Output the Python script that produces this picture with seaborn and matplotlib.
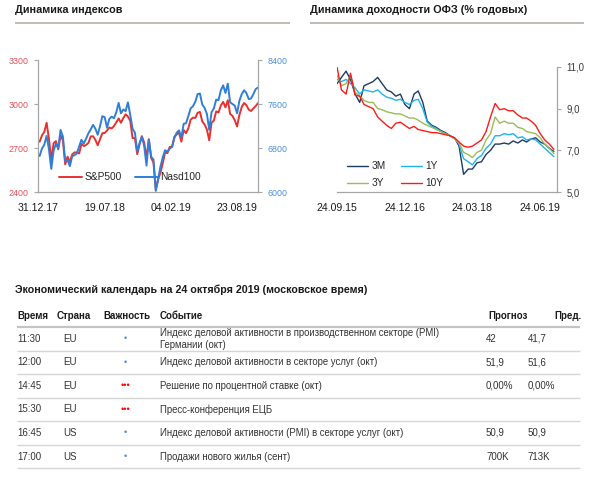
import numpy as np
import pandas as pd
import matplotlib
matplotlib.use('Agg')
import matplotlib.pyplot as plt
import seaborn as sns

sns.set_style('white')
plt.rcParams['font.family'] = ['Liberation Sans', 'DejaVu Sans']

# ---------------- data: stock indices (weekly closes) ----------------
idx_start = '2018-01-05'
sp500 = [2743, 2786, 2810, 2872, 2762, 2619, 2732, 2747, 2691, 2786, 2752, 2588, 2641,
         2604, 2656, 2670, 2670, 2663, 2728, 2713, 2721, 2735, 2779, 2780, 2755, 2718,
         2760, 2801, 2802, 2819, 2840, 2833, 2850, 2875, 2902, 2872, 2904, 2930, 2914,
         2886, 2767, 2768, 2658, 2723, 2781, 2736, 2633, 2760, 2633, 2600, 2417, 2486,
         2532, 2596, 2671, 2665, 2707, 2708, 2776, 2793, 2804, 2743, 2822, 2801, 2834,
         2893, 2907, 2905, 2940, 2946, 2881, 2860, 2826, 2752, 2873, 2887, 2950, 2942,
         2990, 3014, 2977, 3026, 2932, 2919, 2889, 2847, 2926, 2979, 3007, 2992, 2962,
         2952, 2970, 2986, 3006]
nasd100 = [6655, 6790, 6860, 7022, 6777, 6420, 6750, 6880, 6800, 7130, 7010, 6560, 6580,
           6470, 6650, 6670, 6700, 6830, 6950, 6880, 6970, 7070, 7140, 7220, 7150, 7040,
           7200, 7380, 7360, 7170, 7330, 7370, 7340, 7450, 7620, 7430, 7500, 7470, 7630,
           7400, 7150, 7080, 6740, 6890, 7000, 6840, 6480, 6950, 6640, 6590, 6020, 6230,
           6460, 6630, 6760, 6730, 6790, 6820, 6980, 7080, 7120, 6990, 7240, 7250, 7380,
           7520, 7560, 7640, 7780, 7790, 7590, 7530, 7420, 7130, 7450, 7520, 7680, 7670,
           7850, 7940, 7800, 7970, 7630, 7600, 7570, 7430, 7660, 7780, 7850, 7800, 7690,
           7700, 7780, 7870, 7900]
idx_tick_labels = ['31.12.17', '19.07.18', '04.02.19', '23.08.19']
sp_ticks = [2400, 2700, 3000, 3300]
nd_ticks = [6000, 6800, 7600, 8400]

# ---------------- data: OFZ yields (monthly) ----------------
ofz_start = '2015-09-24'
ofz_3m = [10.2, 10.5, 10.8, 10.4, 9.7, 9.3, 10.1, 10.2, 10.3, 10.5, 10.2, 9.9, 9.8, 9.6,
          9.7, 9.2, 9.0, 9.7, 9.85, 9.3, 8.4, 8.2, 8.1, 7.95, 7.85, 7.7, 7.6, 7.2, 5.85,
          6.1, 6.1, 6.4, 6.45, 6.8, 7.0, 7.3, 7.3, 7.35, 7.3, 7.45, 7.35, 7.5, 7.4, 7.55,
          7.6, 7.4, 7.3, 7.1, 6.95]
ofz_1y = [10.4, 10.3, 10.4, 10.2, 10.0, 9.7, 9.9, 9.85, 9.8, 9.9, 9.7, 9.55, 9.5, 9.4,
          9.45, 9.3, 9.2, 9.4, 9.45, 9.0, 8.35, 8.15, 8.05, 7.9, 7.8, 7.7, 7.55, 7.3, 6.6,
          6.45, 6.3, 6.6, 6.75, 7.1, 7.3, 7.7, 7.7, 7.8, 7.75, 7.8, 7.6, 7.65, 7.5, 7.55,
          7.5, 7.3, 7.1, 6.9, 6.7]
ofz_3y = [10.6, 10.1, 10.2, 10.6, 9.8, 9.6, 9.4, 9.3, 9.3, 9.0, 8.95, 8.85, 8.8, 8.75,
          8.75, 8.65, 8.55, 8.55, 8.45, 8.3, 8.2, 8.1, 8.0, 7.9, 7.8, 7.7, 7.55, 7.35, 6.9,
          6.8, 6.65, 6.9, 7.0, 7.5, 7.8, 8.6, 8.3, 8.4, 8.3, 8.3, 8.1, 8.05, 7.9, 7.85,
          7.8, 7.6, 7.3, 7.1, 6.85]
ofz_10y = [11.0, 9.9, 9.7, 10.7, 9.65, 9.6, 9.2, 9.1, 9.0, 8.6, 8.4, 8.2, 8.05, 8.3,
           8.35, 8.2, 8.05, 8.15, 8.0, 7.95, 7.9, 7.85, 7.85, 7.8, 7.75, 7.7, 7.6, 7.4, 7.2,
           7.15, 7.2, 7.35, 7.5, 7.9, 8.6, 9.25, 8.95, 9.0, 8.9, 8.9, 8.7, 8.55, 8.55, 8.4,
           8.2, 7.8, 7.5, 7.3, 7.05]
ofz_series = ['3M', '1Y', '3Y', '10Y']
ofz_tick_labels = ['24.09.15', '24.12.16', '24.03.18', '24.06.19']
ofz_yticks = [5.0, 7.0, 9.0, 11.0]

# ---------------- data: calendar table ----------------
cal_title = 'Экономический календарь на 24 октября 2019 (московское время)'
cal_headers = ['Время', 'Страна', 'Важность', 'Событие', 'Прогноз', 'Пред.']
cal_time = ['11:30', '12:00', '14:45', '15:30', '16:45', '17:00']
cal_country = ['EU', 'EU', 'EU', 'EU', 'US', 'US']
cal_importance = [1, 1, 3, 3, 1, 1]
cal_event = ['Индекс деловой активности в производственном секторе (PMI)\nГермании (окт)',
             'Индекс деловой активности в секторе услуг (окт)',
             'Решение по процентной ставке (окт)',
             'Пресс-конференция ЕЦБ',
             'Индекс деловой активности (PMI) в секторе услуг (окт)',
             'Продажи нового жилья (сент)']
cal_forecast = ['42', '51,9', '0,00%', '', '50,9', '700K']
cal_prev = ['41,7', '51,6', '0,00%', '', '50,9', '713K']

# ---------------- styling ----------------
SP_RED = '#e8312f'
ND_BLUE = '#2f7ed8'
SP_LBL = '#e8505a'
ND_LBL = '#4a8fdc'
SPINE = '#a6a6a6'
OFZ_COLORS = {'3M': '#1f3b64', '1Y': '#1cb4ef', '3Y': '#9bbb59', '10Y': '#ff1a1a'}
TXT = '#333333'

W, H = 590, 484
fig = plt.figure(figsize=(W / 100, H / 100), dpi=100)


def rect(x0, y0, x1, y1):
    return [x0 / W, 1 - y1 / H, (x1 - x0) / W, (y1 - y0) / H]


bg = fig.add_axes([0, 0, 1, 1])
bg.set_xlim(0, W)
bg.set_ylim(H, 0)
bg.axis('off')

# titles + separators
bg.text(15, 10, 'Динамика индексов', fontsize=7.8, fontweight='bold', color='#1a1a1a', va='center')
bg.text(310, 10, 'Динамика доходности ОФЗ (% годовых)', fontsize=7.8, fontweight='bold',
        color='#1a1a1a', va='center')
bg.hlines([22.5, 22.5], [15, 310], [290, 584], color='#b5afa8', lw=1.2)

# ---------------- left chart ----------------
dates_idx = pd.date_range(idx_start, periods=len(sp500), freq='W-FRI')
df_idx = pd.DataFrame({'date': dates_idx, 'S&P500': sp500, 'Nasd100': nasd100})

ax1 = fig.add_axes(rect(38, 60, 258, 192))
sns.lineplot(data=df_idx, x='date', y='S&P500', ax=ax1, color=SP_RED, lw=1.4)
ax1b = ax1.twinx()
sns.lineplot(data=df_idx, x='date', y='Nasd100', ax=ax1b, color=ND_BLUE, lw=1.4)

ax1.set_xlim(pd.Timestamp('2017-12-31'), pd.Timestamp('2019-10-25'))
ax1.set_ylim(sp_ticks[0], sp_ticks[-1])
ax1b.set_ylim(nd_ticks[0], nd_ticks[-1])
ax1.set_yticks(sp_ticks)
ax1.set_yticklabels([str(v) for v in sp_ticks])
ax1b.set_yticks(nd_ticks)
ax1b.set_yticklabels([str(v) for v in nd_ticks])
ax1.set_xticks(pd.to_datetime(idx_tick_labels, format='%d.%m.%y'))
ax1.set_xticklabels(idx_tick_labels)
for a in (ax1, ax1b):
    a.set_xlabel('')
    a.set_ylabel('')
    a.set_facecolor('none')
    for s in a.spines.values():
        s.set_color(SPINE)
        s.set_linewidth(0.9)
ax1.spines['top'].set_visible(False)
ax1.spines['right'].set_visible(False)
ax1b.spines['top'].set_visible(False)
ax1b.spines['left'].set_visible(False)
ax1b.spines['bottom'].set_visible(False)
ax1.tick_params(axis='y', labelsize=6.4, labelcolor=SP_LBL, color=SPINE, length=3, width=0.8, pad=4)
ax1b.tick_params(axis='y', labelsize=6.4, labelcolor=ND_LBL, color=SPINE, length=3, width=0.8, pad=4)
ax1.tick_params(axis='x', labelsize=7.6, labelcolor='#1a1a1a', color=SPINE, length=4,
                width=0.8, direction='inout', pad=6)
h1 = ax1.get_lines()[0]
h2 = ax1b.get_lines()[0]
ax1b.legend([h1, h2], ['S&P500', 'Nasd100'], ncol=2, frameon=False, fontsize=7.3,
            loc='lower left', bbox_to_anchor=(0.095, 0.075), borderaxespad=0, borderpad=0,
            handlelength=2.3, handletextpad=0.2, columnspacing=1.3)

# ---------------- right chart ----------------
dates_ofz = pd.date_range(ofz_start, periods=len(ofz_3m), freq=pd.DateOffset(months=1))
df_ofz = pd.DataFrame({'date': dates_ofz, '3M': ofz_3m, '1Y': ofz_1y, '3Y': ofz_3y, '10Y': ofz_10y})
long = df_ofz.melt(id_vars='date', var_name='series', value_name='yield')

ax2 = fig.add_axes(rect(337, 67, 557, 192))
sns.lineplot(data=long, x='date', y='yield', hue='series', hue_order=ofz_series,
             palette=OFZ_COLORS, ax=ax2, lw=1.0, legend=False)
ax2.set_xlim(pd.Timestamp('2015-09-24'), pd.Timestamp('2019-10-15'))
ax2.set_ylim(ofz_yticks[0], ofz_yticks[-1])
ax2.yaxis.tick_right()
ax2.set_yticks(ofz_yticks)
ax2.set_yticklabels([f'{v:.1f}'.replace('.', ',') for v in ofz_yticks])
ax2.set_xticks(pd.to_datetime(ofz_tick_labels, format='%d.%m.%y'))
ax2.set_xticklabels(ofz_tick_labels)
ax2.set_xlabel('')
ax2.set_ylabel('')
ax2.set_facecolor('none')
for k in ('top', 'left'):
    ax2.spines[k].set_visible(False)
for k in ('bottom', 'right'):
    ax2.spines[k].set_color(SPINE)
    ax2.spines[k].set_linewidth(0.9)
ax2.tick_params(axis='y', labelsize=6.9, labelcolor='#3a3a3a', color=SPINE, length=3, width=0.8, pad=4)
ax2.tick_params(axis='x', labelsize=7.6, labelcolor='#1a1a1a', color=SPINE, length=4,
                width=0.8, direction='inout', pad=6)
lines = {s: l for s, l in zip(ofz_series, ax2.get_lines())}
order = ['3M', '3Y', '1Y', '10Y']
ax2.legend([lines[s] for s in order], order, ncol=2, frameon=False, fontsize=7.3,
           loc='lower left', bbox_to_anchor=(0.045, 0.03), borderaxespad=0, borderpad=0,
           handlelength=2.1, handletextpad=0.3, columnspacing=1.5, labelspacing=0.7)

# ---------------- calendar table ----------------
bg.text(15, 290, cal_title, fontsize=7.7, fontweight='bold', color='#1a1a1a', va='center')
hdr_y = 315.7
hdr_x = [17, 57, 103, 160, 488, 554]
for x, t in zip(hdr_x, cal_headers):
    bg.text(x, hdr_y, t, fontsize=7.0, fontweight='bold', color='#1a1a1a', va='center')
line0 = 327
row_h = 23.55
bg.hlines(line0, 17, 580, color='#c4c4c4', lw=1.6)
for i in range(len(cal_time)):
    yc = line0 + row_h * (i + 0.5)
    bg.text(17, yc, cal_time[i], fontsize=7.0, color=TXT, va='center')
    bg.text(63, yc, cal_country[i], fontsize=7.0, color=TXT, va='center')
    n = cal_importance[i]
    bg.text(125.7, yc, '•' * n, fontsize=6.5 if n > 1 else 6.5,
            color='#ff0000' if n > 1 else '#3d8ee0', va='center', ha='center')
    bg.text(160, yc, cal_event[i], fontsize=6.9, color=TXT, va='center', linespacing=1.25)
    bg.text(486, yc, cal_forecast[i], fontsize=7.0, color=TXT, va='center')
    bg.text(527.7, yc, cal_prev[i], fontsize=7.0, color=TXT, va='center')
    bg.hlines(line0 + row_h * (i + 1), 17, 580, color='#d6d6d6', lw=1.0)

fig.savefig('out.png', dpi=100)
